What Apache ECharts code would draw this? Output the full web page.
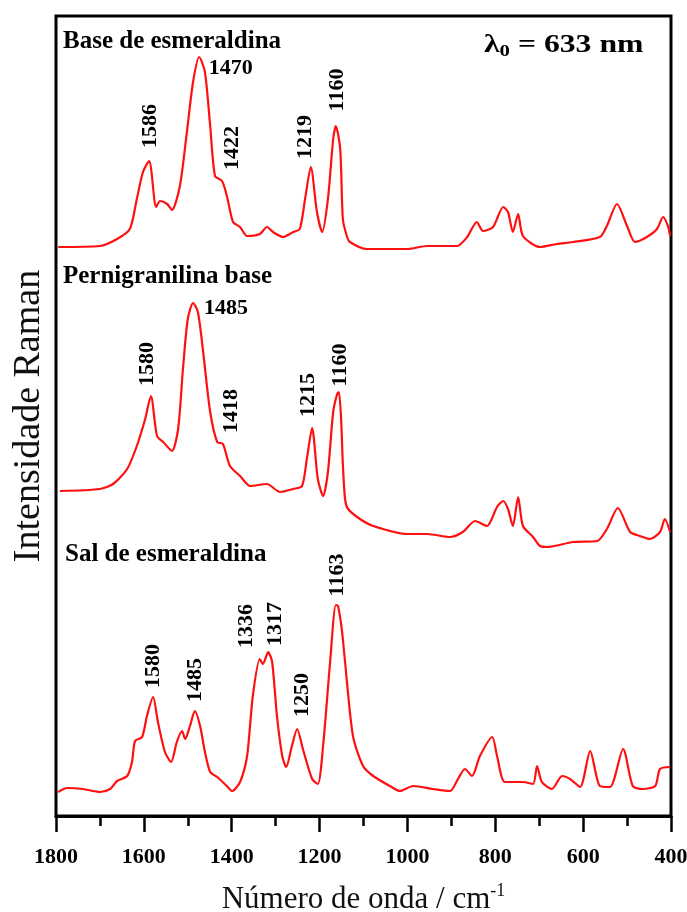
<!DOCTYPE html>
<html><head><meta charset="utf-8">
<script src="https://cdn.jsdelivr.net/npm/echarts/dist/echarts.min.js"></script>
<style>html,body{margin:0;padding:0;background:#fff}#c{width:687px;height:912px}</style>
</head><body><div id="c"></div>
<script>
// Raman spectra (wavenumber in cm-1, intensity in arbitrary units, stacked)
const wnBase = [1795,1700,1661,1632,1616,1602,1588,1572,1563,1547,1536,1518,1502,1488,1474,1461,1449,1438,1422,1411,1397,1381,1365,1336,1320,1306,1283,1260,1245,1233,1220,1206,1194,1181,1169,1163,1153,1147,1138,1131,1092,1001,955,887,864,842,828,805,782,771,760,748,737,698,660,623,562,546,523,500,482,455,432,418,407,402];
const intBase = [569,570,577,587,617,644,655,609,615,612,606,630,684,734,759,744,690,640,635,620,594,589,580,582,589,584,579,584,587,617,649,604,584,617,677,690,667,597,580,574,567,567,570,570,579,594,585,589,609,604,584,602,580,569,572,574,579,590,612,590,574,579,587,599,590,580];

const wnPern = [1791,1700,1670,1638,1616,1597,1584,1570,1556,1536,1522,1511,1500,1488,1477,1465,1449,1433,1420,1404,1381,1358,1320,1290,1260,1240,1229,1217,1204,1192,1181,1169,1160,1156,1151,1147,1142,1135,1108,1078,1001,955,903,874,846,819,796,782,771,760,748,737,714,698,682,623,568,546,521,493,471,448,425,414,402];
const intPern = [325,327,332,347,370,397,420,380,374,365,387,447,497,513,504,464,404,374,372,350,340,330,332,324,327,330,357,388,337,320,344,404,422,424,397,352,317,307,297,290,282,282,279,284,295,290,309,315,307,290,319,290,279,270,269,274,275,287,308,284,280,277,284,297,284];

const wnSal = [1795,1775,1739,1700,1677,1661,1638,1627,1620,1604,1593,1579,1568,1552,1538,1525,1513,1506,1495,1484,1472,1461,1449,1433,1411,1399,1381,1365,1352,1336,1329,1317,1308,1297,1285,1276,1263,1251,1238,1217,1204,1192,1176,1163,1158,1151,1147,1142,1124,1101,1078,1040,1017,987,942,903,885,869,853,835,807,796,778,737,714,705,694,671,648,630,607,584,562,539,509,487,464,436,425,402];
const intSal = [24,28,27,24,27,35,40,54,75,79,100,119,94,64,54,74,85,77,90,105,90,64,44,39,30,25,34,60,120,157,152,164,154,100,60,49,70,87,67,37,32,70,154,211,210,192,177,154,80,50,40,30,25,30,27,25,37,47,40,60,79,60,34,34,32,50,34,27,40,37,29,65,30,29,67,30,27,30,47,49];

// peak annotations: [text, wavenumber, intensity, rotation]
const peaksBase = [['1586',1586,690,90],['1470',1402,748,0],['1422',1399,668,90],['1219',1233,679,90],['1160',1160,726,90]];
const peaksPern = [['1485',1413,508,0],['1580',1591,452,90],['1418',1402,405,90],['1215',1226,421,90],['1160',1153,451,90]];
const peaksSal = [['1580',1579,150,90],['1485',1484,136,90],['1336',1367,190,90],['1317',1301,192,90],['1250',1240,121,90],['1163',1160,241,90]];

const spectrumNames = ['Base de esmeraldina','Pernigranilina base','Sal de esmeraldina'];
const xMin = 400, xMax = 1800, xStep = 200;

const SERIF = "'Liberation Serif','Times New Roman',serif";
const zip = (a,b) => a.map((v,i)=>[v,b[i]]);
const lineSeries = (name, wn, it) => ({
  name, type:'line', data: zip(wn,it), showSymbol:false, smooth:0.25,
  lineStyle:{color:'#ff1010', width:2.2}, z:3
});
const labelSeries = (arr) => ({
  type:'scatter', symbolSize:0, silent:true, z:5, itemStyle:{opacity:1},
  data: arr.map(p => ({value:[p[1],p[2]], label:{formatter:p[0], rotate:p[3]}})),
  label:{show:true, position:'inside', color:'#000', opacity:1, fontFamily:SERIF, fontWeight:'bold', fontSize:22}
});

const chart = echarts.init(document.getElementById('c'), null, {renderer:'canvas'});
chart.setOption({
  animation:false,
  backgroundColor:'#fff',
  grid:{left:56, right:16, top:16, bottom:96, show:true, borderColor:'#000', borderWidth:3,
        backgroundColor:'transparent', containLabel:false, outerBoundsMode:'none'},
  xAxis:{
    type:'value', min:xMin, max:xMax, interval:xStep, inverse:true,
    axisLine:{show:true, lineStyle:{color:'#000', width:3}},
    axisTick:{show:true, inside:false, length:16, lineStyle:{color:'#000', width:2.5}},
    minorTick:{show:true, splitNumber:2, length:10, lineStyle:{color:'#000', width:2.5}},
    splitLine:{show:false}, minorSplitLine:{show:false},
    axisLabel:{color:'#000', fontFamily:SERIF, fontWeight:'bold', fontSize:22, margin:30, formatter:v => String(v)},
    name:'Número de onda / cm{sup|-1}', nameLocation:'middle', nameGap:66,
    nameTextStyle:{color:'#111', fontFamily:SERIF, fontSize:31, lineHeight:36,
      rich:{sup:{fontFamily:SERIF, fontSize:18, verticalAlign:'top', lineHeight:36, padding:[0,0,12,0]}}}
  },
  yAxis:{
    type:'value', min:0, max:800,
    axisLine:{show:false}, axisTick:{show:false}, axisLabel:{show:false}, splitLine:{show:false},
    name:'Intensidade Raman', nameLocation:'middle', nameRotate:90, nameGap:8,
    nameTextStyle:{color:'#111', fontFamily:SERIF, fontSize:38}
  },
  graphic:[
    {type:'text', left:63, top:29, style:{text:spectrumNames[0], font:"bold 25px 'Liberation Serif'", fill:'#000'}},
    {type:'text', left:63, top:264, style:{text:spectrumNames[1], font:"bold 25px 'Liberation Serif'", fill:'#000'}},
    {type:'text', left:65, top:542, style:{text:spectrumNames[2], font:"bold 25px 'Liberation Serif'", fill:'#000'}},
    {type:'text', left:484, top:32, scaleX:1.22, style:{text:'{a|λ}{b|0}{a| = 633 nm}', fill:'#000',
      rich:{a:{font:"bold 26px 'Liberation Serif'", fill:'#000', lineHeight:30},
            b:{font:"bold 17px 'Liberation Serif'", fill:'#000', lineHeight:30, verticalAlign:'bottom', padding:[8,0,0,0]}}}}
  ],
  series:[
    lineSeries(spectrumNames[0], wnBase, intBase),
    lineSeries(spectrumNames[1], wnPern, intPern),
    lineSeries(spectrumNames[2], wnSal, intSal),
    labelSeries(peaksBase), labelSeries(peaksPern), labelSeries(peaksSal)
  ]
});
</script></body></html>
